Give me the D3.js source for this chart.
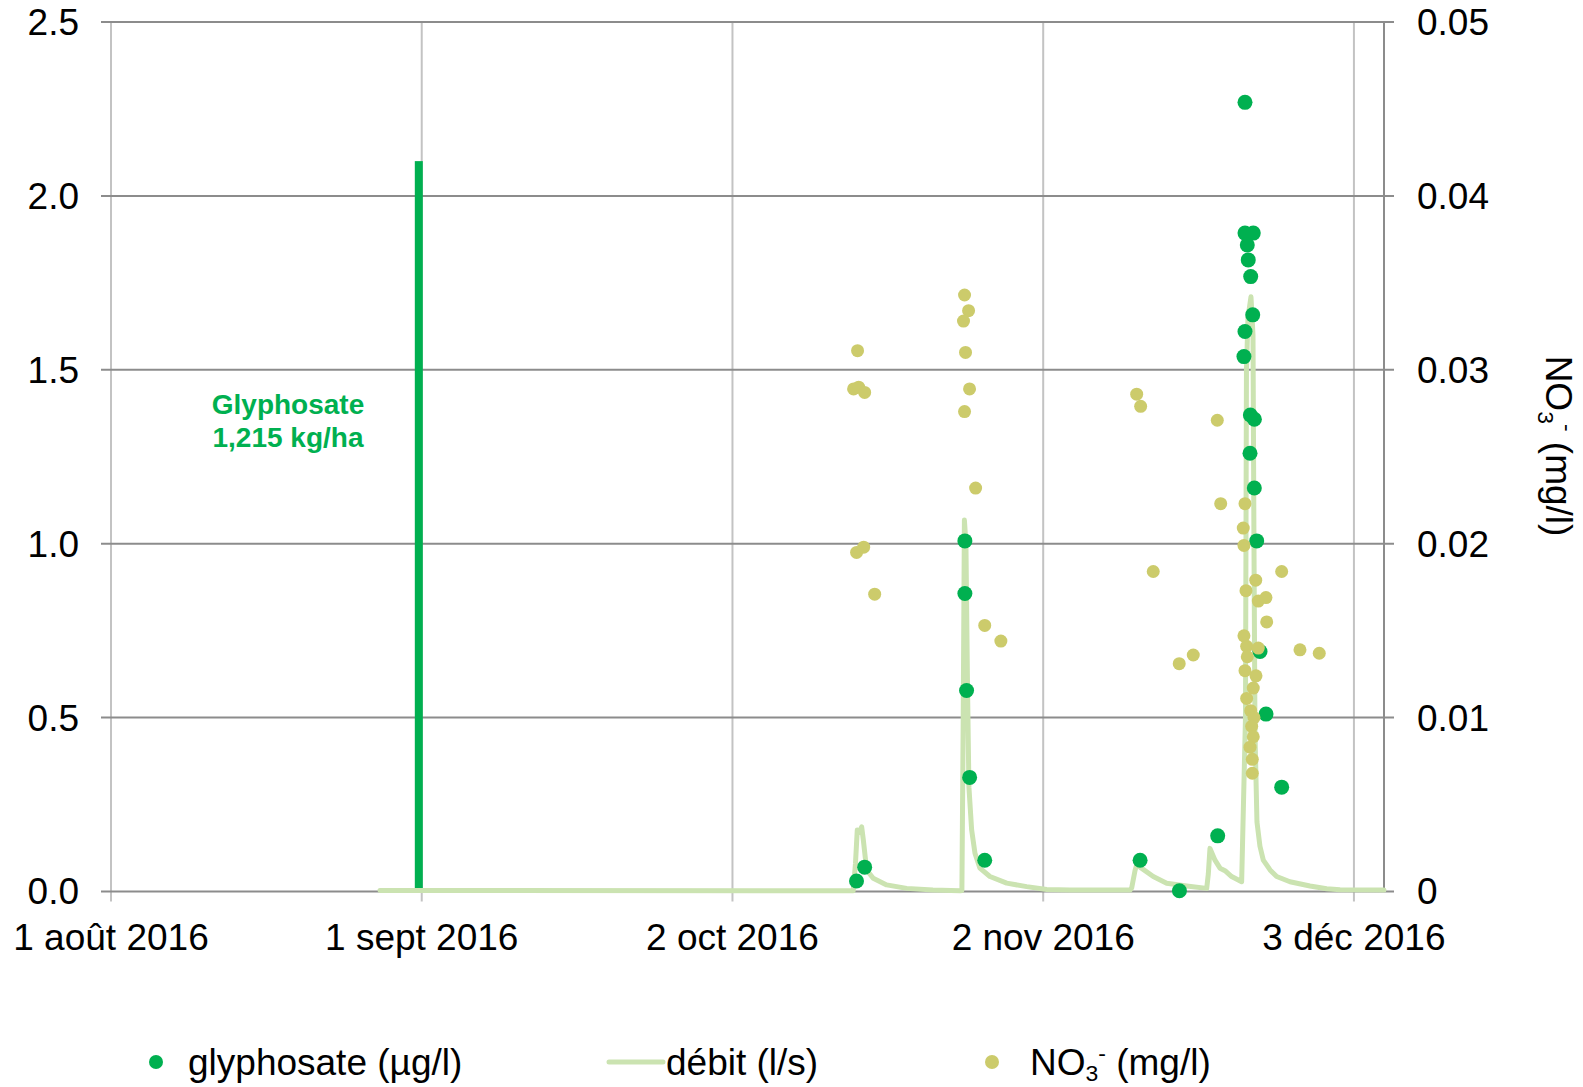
<!DOCTYPE html>
<html>
<head>
<meta charset="utf-8">
<script src="https://cdn.jsdelivr.net/npm/d3@7"></script>
<style>
  body { margin: 0; background: #fff; }
  text { font-family: "Liberation Sans", Arial, Helvetica, sans-serif; }
</style>
</head>
<body>
<svg id="chart" width="1583" height="1087"></svg>
<script>
const parse = d3.timeParse("%Y-%m-%d %H:%M");

// Axis ticks
const xTickDates = ["2016-08-01 00:00", "2016-09-01 00:00", "2016-10-02 00:00", "2016-11-02 00:00", "2016-12-03 00:00"];
const xTickLabels = ["1 août 2016", "1 sept 2016", "2 oct 2016", "2 nov 2016", "3 déc 2016"];
const leftTicks = [0, 0.5, 1.0, 1.5, 2.0, 2.5];
const leftTickLabels = ["0.0", "0.5", "1.0", "1.5", "2.0", "2.5"];
const rightTicks = [0, 0.01, 0.02, 0.03, 0.04, 0.05];
const rightTickLabels = ["0", "0.01", "0.02", "0.03", "0.04", "0.05"];

// Glyphosate application (bar)
const applicationDates = ["2016-08-31 17:00"];
const applicationValues = [2.1];
const applicationLabel = ["Glyphosate", "1,215 kg/ha"];

// Débit (l/s)
const debitTimes = [
  "2016-08-27 20:00", "2016-10-14 01:10", "2016-10-14 06:30", "2016-10-14 10:50", "2016-10-14 16:00",
  "2016-10-14 21:20", "2016-10-15 01:10", "2016-10-15 09:20", "2016-10-16 01:00", "2016-10-17 09:10",
  "2016-10-19 09:10", "2016-10-22 00:00", "2016-10-24 16:50", "2016-10-24 21:20", "2016-10-25 00:30",
  "2016-10-25 03:20", "2016-10-25 07:00", "2016-10-25 10:40", "2016-10-25 14:10", "2016-10-25 20:40",
  "2016-10-26 04:40", "2016-10-26 16:30", "2016-10-27 16:30", "2016-10-29 08:40", "2016-10-31 08:30",
  "2016-11-02 08:20", "2016-11-04 16:00", "2016-11-10 15:50", "2016-11-10 19:50", "2016-11-11 03:50",
  "2016-11-11 08:40", "2016-11-11 15:50", "2016-11-12 23:30", "2016-11-14 07:40", "2016-11-16 07:30",
  "2016-11-18 07:30", "2016-11-18 11:20", "2016-11-18 15:20", "2016-11-19 03:20", "2016-11-19 15:20",
  "2016-11-20 03:20", "2016-11-20 19:10", "2016-11-21 19:10", "2016-11-22 04:20", "2016-11-22 06:40",
  "2016-11-22 10:20", "2016-11-22 17:30", "2016-11-22 22:20", "2016-11-23 00:40", "2016-11-23 03:10",
  "2016-11-23 07:50", "2016-11-23 15:00", "2016-11-23 23:00", "2016-11-24 15:10", "2016-11-25 07:00",
  "2016-11-26 14:50", "2016-11-28 14:50", "2016-11-30 06:40", "2016-12-01 14:40", "2016-12-06 00:00"
];
const debitValues = [
  0.003, 0.002, 0.08, 0.177, 0.170,
  0.186, 0.15, 0.062, 0.038, 0.019,
  0.009, 0.004, 0.002, 0.003, 0.5,
  1.068, 1.0, 0.6, 0.30, 0.177,
  0.11, 0.067, 0.043, 0.024, 0.014,
  0.006, 0.004, 0.004, 0.01, 0.06,
  0.08, 0.07, 0.043, 0.024, 0.016,
  0.009, 0.05, 0.124, 0.09, 0.067,
  0.060, 0.043, 0.028, 0.5, 1.5,
  1.65, 1.71, 1.6, 1.0, 0.45,
  0.2, 0.13, 0.09, 0.062, 0.043,
  0.028, 0.016, 0.008, 0.005, 0.004
];

// Glyphosate (µg/l)
const glyphoTimes = [
  "2016-10-14 09:00", "2016-10-15 04:30", "2016-10-25 04:30", "2016-10-25 04:30", "2016-10-25 08:30",
  "2016-10-25 15:50", "2016-10-27 04:00", "2016-11-11 16:00", "2016-11-15 14:10", "2016-11-19 09:50",
  "2016-11-22 03:10", "2016-11-22 03:10", "2016-11-22 23:00", "2016-11-22 08:40", "2016-11-22 11:00",
  "2016-11-22 16:50", "2016-11-22 21:40", "2016-11-22 03:10", "2016-11-22 00:40", "2016-11-22 16:00",
  "2016-11-23 01:40", "2016-11-22 15:10", "2016-11-23 01:30", "2016-11-23 07:10", "2016-11-23 15:10",
  "2016-11-24 05:30", "2016-11-25 19:00"
];
const glyphoValues = [
  0.030, 0.070, 1.008, 0.857, 0.578,
  0.328, 0.090, 0.090, 0.002, 0.160,
  2.269, 1.893, 1.893, 1.859, 1.816,
  1.768, 1.658, 1.610, 1.538, 1.370,
  1.358, 1.260, 1.160, 1.008, 0.690,
  0.510, 0.300
];

// NO3- (mg/l)
const no3Times = [
  "2016-10-14 11:30", "2016-10-14 02:00", "2016-10-14 14:10", "2016-10-15 04:30", "2016-10-14 09:10",
  "2016-10-15 02:10", "2016-10-16 04:30",
  "2016-10-25 03:40", "2016-10-25 13:20", "2016-10-25 01:10", "2016-10-25 06:00", "2016-10-25 15:40",
  "2016-10-25 03:40", "2016-10-26 06:10", "2016-10-27 04:00", "2016-10-28 18:40",
  "2016-11-11 07:50", "2016-11-11 17:20", "2016-11-12 23:30", "2016-11-15 13:40", "2016-11-16 23:20",
  "2016-11-19 08:50", "2016-11-19 17:00", "2016-11-22 03:10", "2016-11-21 23:00", "2016-11-22 00:40",
  "2016-11-25 19:00", "2016-11-23 04:50", "2016-11-22 05:30", "2016-11-23 11:00", "2016-11-24 05:20",
  "2016-11-24 07:10", "2016-11-22 00:40", "2016-11-22 07:10", "2016-11-23 11:00", "2016-11-22 08:40",
  "2016-11-22 03:10", "2016-11-23 05:30", "2016-11-22 23:00", "2016-11-22 07:10", "2016-11-22 16:50",
  "2016-11-23 00:40", "2016-11-22 19:10", "2016-11-22 23:00", "2016-11-22 15:10", "2016-11-22 20:40",
  "2016-11-22 20:40", "2016-11-27 14:50", "2016-11-29 13:00"
];
const no3Values = [
  0.0311, 0.0289, 0.0290, 0.0287, 0.0195,
  0.0198, 0.0171,
  0.0343, 0.0334, 0.0328, 0.0310, 0.0289,
  0.0276, 0.0232, 0.0153, 0.0144,
  0.0286, 0.0279, 0.0184, 0.0131, 0.0136,
  0.0271, 0.0223, 0.0223, 0.0209, 0.0199,
  0.0184, 0.0179, 0.0173, 0.0167, 0.0169,
  0.0155, 0.0147, 0.0141, 0.0140, 0.0135,
  0.0127, 0.0124, 0.0117, 0.0111, 0.0104,
  0.0100, 0.0095, 0.0089, 0.0083, 0.0076,
  0.0068, 0.0139, 0.0137
];

// Colours
const GREEN = "#00b050";
const DEBIT = "#cbe3b1";
const NO3 = "#cccb6b";
const GRID_H = "#8c8c8c";
const GRID_V = "#c3c3c3";
const FONT = 37;

// Layout
const svg = d3.select("#chart");
const plot = { left: 111, right: 1384, top: 22, bottom: 891.5 };

const x = d3.scaleTime()
  .domain([parse("2016-08-01 00:00"), parse("2016-12-06 00:00")])
  .range([plot.left, plot.right]);
const yL = d3.scaleLinear().domain([0, 2.5]).range([plot.bottom, plot.top]);
const yR = d3.scaleLinear().domain([0, 0.05]).range([plot.bottom, plot.top]);

// Vertical gridlines with tick marks below the axis
const xTicks = xTickDates.map(parse);
svg.append("g").selectAll("line").data(xTicks).join("line")
  .attr("x1", d => x(d)).attr("x2", d => x(d))
  .attr("y1", plot.top).attr("y2", plot.bottom + 10)
  .attr("stroke", GRID_V).attr("stroke-width", 2);

// Horizontal gridlines with left / right tick marks
svg.append("g").selectAll("line").data(leftTicks).join("line")
  .attr("x1", plot.left - 10).attr("x2", plot.right + 10)
  .attr("y1", d => yL(d)).attr("y2", d => yL(d))
  .attr("stroke", GRID_H).attr("stroke-width", 2);

// Right axis line
svg.append("line")
  .attr("x1", plot.right).attr("x2", plot.right)
  .attr("y1", plot.top).attr("y2", plot.bottom)
  .attr("stroke", GRID_H).attr("stroke-width", 2);

// Left tick labels
svg.append("g").selectAll("text").data(leftTicks).join("text")
  .attr("x", plot.left - 32).attr("y", d => yL(d))
  .attr("dy", "0.35em").attr("text-anchor", "end")
  .attr("font-size", FONT).attr("fill", "#000")
  .text((d, i) => leftTickLabels[i]);

// Right tick labels
svg.append("g").selectAll("text").data(rightTicks).join("text")
  .attr("x", plot.right + 33).attr("y", d => yR(d))
  .attr("dy", "0.35em").attr("text-anchor", "start")
  .attr("font-size", FONT).attr("fill", "#000")
  .text((d, i) => rightTickLabels[i]);

// Bottom tick labels
svg.append("g").selectAll("text").data(xTicks).join("text")
  .attr("x", d => x(d)).attr("y", plot.bottom + 58)
  .attr("text-anchor", "middle")
  .attr("font-size", FONT).attr("fill", "#000")
  .text((d, i) => xTickLabels[i]);

// Right axis title
const rTitle = svg.append("text")
  .attr("transform", `translate(${1546},${446}) rotate(90)`)
  .attr("text-anchor", "middle")
  .attr("font-size", FONT).attr("fill", "#000");
rTitle.append("tspan").text("NO");
rTitle.append("tspan").attr("font-size", FONT * 0.62).attr("dy", 8).text("3");
rTitle.append("tspan").attr("font-size", FONT * 0.62).attr("dy", -22).text("-");
rTitle.append("tspan").attr("dy", 14).text(" (mg/l)");

// Application bar
const barW = 8;
svg.append("g").selectAll("rect").data(applicationDates.map(parse)).join("rect")
  .attr("x", d => x(d) - barW / 2)
  .attr("width", barW)
  .attr("y", (d, i) => yL(applicationValues[i]))
  .attr("height", (d, i) => yL(0) - yL(applicationValues[i]))
  .attr("fill", GREEN);

svg.append("g").selectAll("text").data(applicationLabel).join("text")
  .attr("x", 288).attr("y", (d, i) => 414 + i * 33)
  .attr("text-anchor", "middle")
  .attr("font-size", 28).attr("font-weight", "bold").attr("fill", GREEN)
  .text(d => d);

// Débit line
const debit = debitTimes.map((t, i) => ({ t: parse(t), v: debitValues[i] }));
svg.append("path").datum(debit)
  .attr("fill", "none").attr("stroke", DEBIT)
  .attr("stroke-width", 5).attr("stroke-linejoin", "round").attr("stroke-linecap", "round")
  .attr("d", d3.line().x(d => x(d.t)).y(d => yL(d.v)));

// Glyphosate points
const glypho = glyphoTimes.map((t, i) => ({ t: parse(t), v: glyphoValues[i] }));
svg.append("g").selectAll("circle").data(glypho).join("circle")
  .attr("cx", d => x(d.t)).attr("cy", d => yL(d.v)).attr("r", 7.5)
  .attr("fill", GREEN);

// NO3 points
const no3 = no3Times.map((t, i) => ({ t: parse(t), v: no3Values[i] }));
svg.append("g").selectAll("circle").data(no3).join("circle")
  .attr("cx", d => x(d.t)).attr("cy", d => yR(d.v)).attr("r", 6.5)
  .attr("fill", NO3);

// Legend
const ly = 1062;
const legend = svg.append("g").attr("font-size", FONT);
legend.append("circle").attr("cx", 156).attr("cy", ly).attr("r", 7).attr("fill", GREEN);
legend.append("text").attr("x", 188).attr("y", ly).attr("dy", "0.35em").text("glyphosate (µg/l)");
legend.append("line").attr("x1", 609).attr("x2", 663).attr("y1", ly).attr("y2", ly)
  .attr("stroke", DEBIT).attr("stroke-width", 5).attr("stroke-linecap", "round");
legend.append("text").attr("x", 666).attr("y", ly).attr("dy", "0.35em").text("débit (l/s)");
legend.append("circle").attr("cx", 992).attr("cy", ly).attr("r", 7).attr("fill", NO3);
const l3 = legend.append("text").attr("x", 1030).attr("y", ly).attr("dy", "0.35em");
l3.append("tspan").text("NO");
l3.append("tspan").attr("font-size", FONT * 0.62).attr("dy", 6).text("3");
l3.append("tspan").attr("font-size", FONT * 0.62).attr("dy", -20).text("-");
l3.append("tspan").attr("dy", 14).text(" (mg/l)");
</script>
</body>
</html>
